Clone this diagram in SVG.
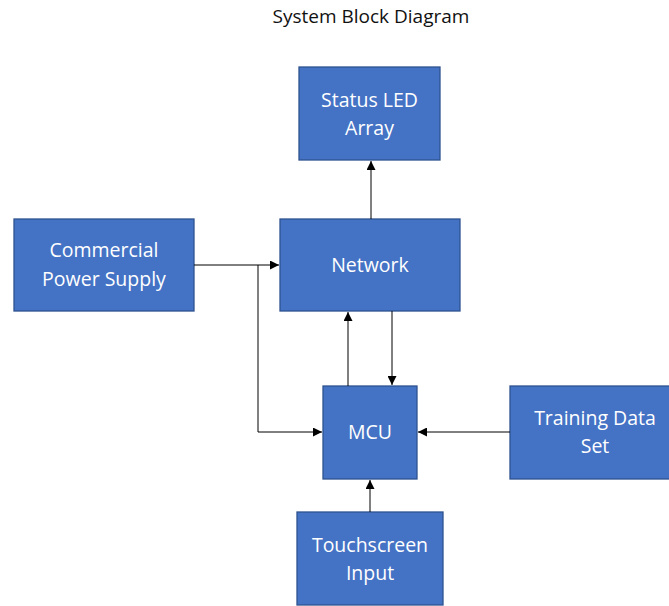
<svg xmlns="http://www.w3.org/2000/svg" width="669" height="606" viewBox="0 0 669 606">
<style>
.box{fill:#4472C4;stroke:#2F528F;stroke-width:1.3}
.lbl{font-family:"Open Sans","Noto Sans",sans-serif;font-size:19.5px;fill:#fff;text-anchor:middle}
.title{font-family:"Open Sans","Noto Sans",sans-serif;font-size:19px;fill:#111;text-anchor:middle}
.c{fill:none;stroke:#000;stroke-width:1;}
</style>
<defs>
<marker id="ah" viewBox="0 0 10 10" refX="10" refY="5" markerWidth="9" markerHeight="9" markerUnits="userSpaceOnUse" orient="auto">
<path d="M0,0 L10,5 L0,10 z" fill="#000"/>
</marker>
</defs>
<rect width="669" height="606" fill="#fff"/>
<text class="title" x="371" y="23">System Block Diagram</text>
<g id="status"><rect class="box" x="299" y="67" width="141" height="93"/><text class="lbl" x="369.5" y="107">Status LED</text><text class="lbl" x="369.5" y="135">Array</text></g>
<g id="network"><rect class="box" x="280" y="219" width="180" height="92"/><text class="lbl" x="370" y="272">Network</text></g>
<g id="power"><rect class="box" x="14" y="219" width="180" height="92"/><text class="lbl" x="104" y="257">Commercial</text><text class="lbl" x="104" y="286">Power Supply</text></g>
<g id="mcu"><rect class="box" x="323" y="386" width="94" height="93"/><text class="lbl" x="370" y="439">MCU</text></g>
<g id="training"><rect class="box" x="510" y="386" width="170" height="93"/><text class="lbl" x="595" y="425">Training Data</text><text class="lbl" x="595" y="453">Set</text></g>
<g id="touch"><rect class="box" x="297" y="512" width="146" height="93"/><text class="lbl" x="370" y="552">Touchscreen</text><text class="lbl" x="370" y="580">Input</text></g>
<g id="connectors">
<path class="c" d="M194,265 H279" marker-end="url(#ah)"/>
<path class="c" d="M258,265 V432 H322" marker-end="url(#ah)"/>
<path class="c" d="M348,386 V312" marker-end="url(#ah)"/>
<path class="c" d="M392,311 V385" marker-end="url(#ah)"/>
<path class="c" d="M510,432 H418" marker-end="url(#ah)"/>
<path class="c" d="M370,512 V480" marker-end="url(#ah)"/>
<path class="c" d="M371,219 V161" marker-end="url(#ah)"/>
</g>
</svg>
